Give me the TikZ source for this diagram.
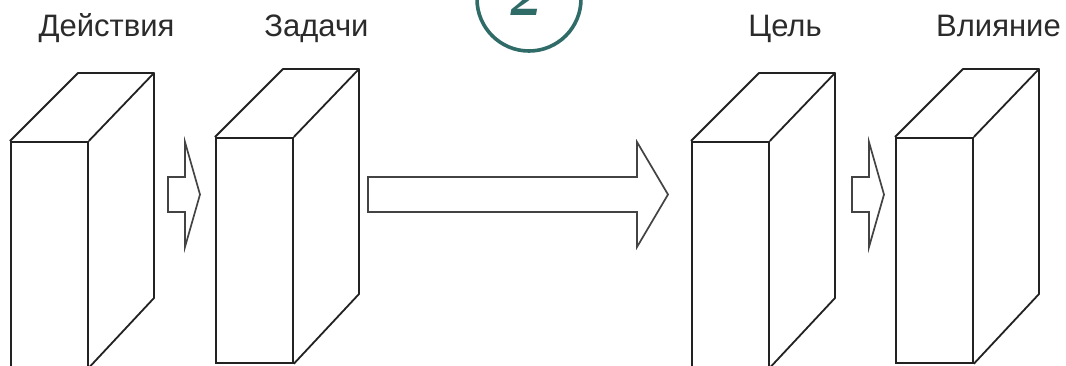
\documentclass[tikz,border=0pt]{standalone}
\usepackage{fontspec}
\setmainfont{Liberation Sans}
\newfontfamily\numfont{Liberation Serif}
\definecolor{teal2}{HTML}{2F6B67}
\definecolor{ink}{HTML}{222222}
\definecolor{labelgray}{HTML}{2B2B2B}
\begin{document}
\begin{tikzpicture}[x=1pt,y=-1pt,
  front/.style={draw=ink,line width=1.8pt,minimum width=77pt,minimum height=225pt,inner sep=0pt,anchor=north west},
  edge3d/.style={draw=ink,line width=1.8pt,line join=round},
  fatarrow/.style={draw=ink!85,line width=1.7pt,fill=white,line join=miter},
  lbl/.style={font=\fontsize{31}{36}\selectfont,text=labelgray,anchor=base,inner sep=0pt}
]
\useasboundingbox (0,0) rectangle (1066,365);
\fill[white] (0,0) rectangle (1066,365);

% boxes (front faces)
\node[front] (b1) at (10,141) {};
\node[front] (b2) at (215,137) {};
\node[front] (b3) at (691,141) {};
\node[front] (b4) at (895,137) {};

% 3D parts
\foreach \b in {b1,b2,b3,b4}{
  \draw[edge3d] (\b.north west) -- ++(68,-68) -- ++(76,0) coordinate (\b-btr) -- (\b.north east);
  \draw[edge3d] (\b-btr) -- ++(0,225) -- (\b.south east);
}

% labels
\node[lbl] (l1) at (106.5,36) {Действия};
\node[lbl] (l2) at (316.5,36) {Задачи};
\node[lbl] (l3) at (785,36) {Цель};
\node[lbl] (l4) at (998.5,36) {Влияние};

% arrows
\coordinate (a1s) at (168,194.5);
\coordinate (a2s) at (368,194.5);
\coordinate (a3s) at (852,194.5);
\draw[fatarrow] (a1s) ++(0,-17.5) -- ++(17,0) -- ++(0,-35) -- ++(15,52.5) -- ++(-15,52.5) -- ++(0,-35) -- ++(-17,0) -- cycle;
\draw[fatarrow] (a2s) ++(0,-17.5) -- ++(269,0) -- ++(0,-35) -- ++(31,52.5) -- ++(-31,52.5) -- ++(0,-35) -- ++(-269,0) -- cycle;
\draw[fatarrow] (a3s) ++(0,-17.5) -- ++(17,0) -- ++(0,-35) -- ++(15,52.5) -- ++(-15,52.5) -- ++(0,-35) -- ++(-17,0) -- cycle;

% circle with number
\node[circle,draw=teal2,line width=3.6pt,minimum size=104pt,inner sep=0pt] (c) at (529,-1) {};
\node[anchor=base,inner sep=0pt,text=teal2,font=\numfont\bfseries\itshape\fontsize{62}{62}\selectfont] (n) at (527,15) {2};
\end{tikzpicture}
\end{document}
